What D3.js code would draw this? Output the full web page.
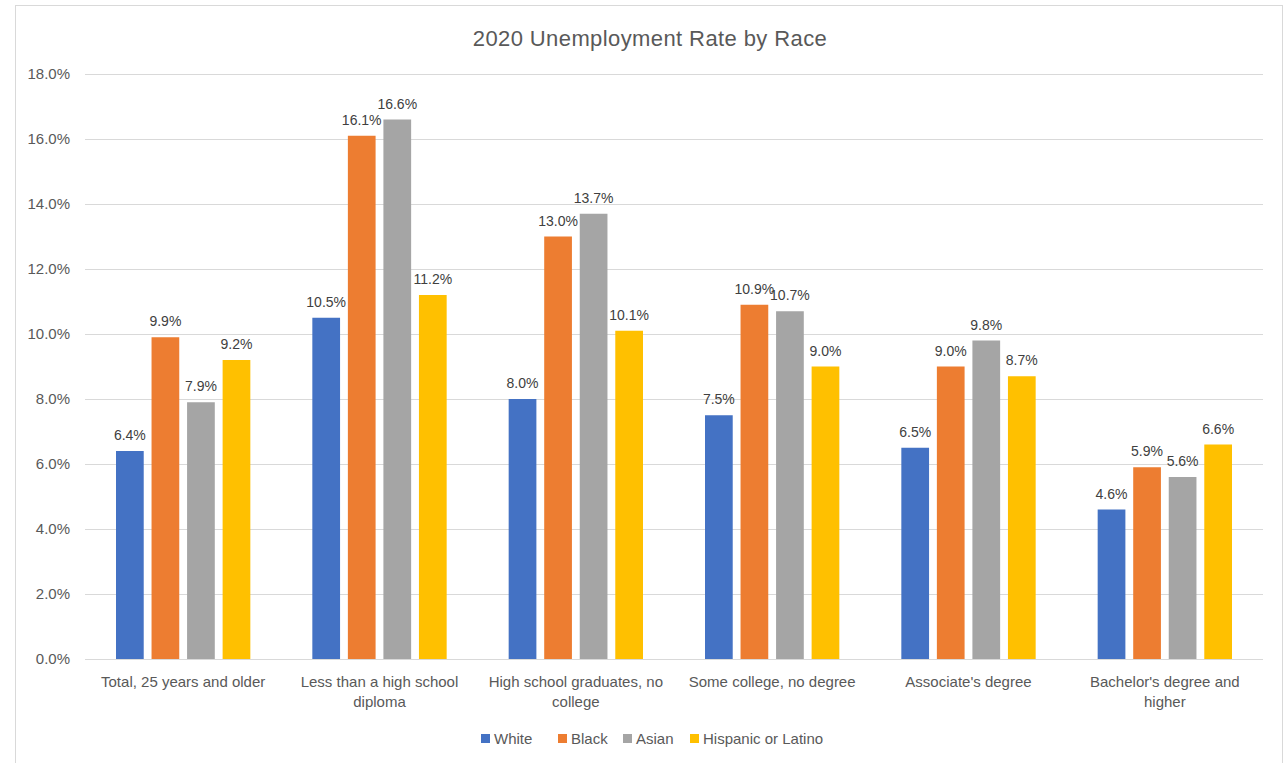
<!DOCTYPE html>
<html>
<head>
<meta charset="utf-8">
<script src="https://cdn.jsdelivr.net/npm/d3@7"></script>
<style>
  body { margin: 0; background: #fff; }
  text { font-family: "Liberation Sans", Arial, sans-serif; }
</style>
</head>
<body>
<div class="chart"></div>
<script>
// Chart data
const categories = [
  "Total, 25 years and older",
  "Less than a high school\ndiploma",
  "High school graduates, no\ncollege",
  "Some college, no degree",
  "Associate's degree",
  "Bachelor's degree and\nhigher"
];
const seriesNames = ["White", "Black", "Asian", "Hispanic or Latino"];
const white = [6.4, 10.5, 8.0, 7.5, 6.5, 4.6];
const black = [9.9, 16.1, 13.0, 10.9, 9.0, 5.9];
const asian = [7.9, 16.6, 13.7, 10.7, 9.8, 5.6];
const hispanic = [9.2, 11.2, 10.1, 9.0, 8.7, 6.6];
const yTicks = [0, 2, 4, 6, 8, 10, 12, 14, 16, 18];

const colors = ["#4472C4", "#ED7D31", "#A5A5A5", "#FFC000"];
const seriesValues = [white, black, asian, hispanic];

const W = 1286, H = 763;
const margin = { top: 74, right: 23, bottom: 104, left: 85 },
  width = W - margin.left - margin.right,
  height = H - margin.top - margin.bottom;

const root = d3.select(".chart")
  .append("svg")
  .attr("width", W)
  .attr("height", H);

// outer chart border
root.append("rect")
  .attr("x", 15.5)
  .attr("y", 5.5)
  .attr("width", 1267)
  .attr("height", 800)
  .attr("fill", "none")
  .attr("stroke", "#D9D9D9")
  .attr("stroke-width", 1);

// title
root.append("text")
  .attr("x", 650)
  .attr("y", 46)
  .attr("text-anchor", "middle")
  .attr("fill", "#595959")
  .style("font-size", "22px")
  .style("letter-spacing", "0.4px")
  .text("2020 Unemployment Rate by Race");

const svg = root.append("g")
  .attr("transform", "translate(" + margin.left + "," + margin.top + ")");

const x0 = d3.scaleBand()
  .domain(categories)
  .range([0, width])
  .paddingInner(0)
  .paddingOuter(0);

const x1 = d3.scaleBand()
  .domain(seriesNames)
  .range([31, x0.bandwidth() - 31])
  .paddingInner(0.22)
  .paddingOuter(0);

const y = d3.scaleLinear()
  .domain([0, 18])
  .range([height, 0]);

// gridlines
svg.append("g")
  .selectAll("line")
  .data(yTicks)
  .enter()
  .append("line")
  .attr("x1", 0)
  .attr("x2", width)
  .attr("y1", function (d) { return Math.round(y(d)) + 0.5; })
  .attr("y2", function (d) { return Math.round(y(d)) + 0.5; })
  .attr("stroke", "#D9D9D9")
  .attr("stroke-width", 1.2);

// y axis labels
const yAxis = svg.append("g")
  .call(d3.axisLeft(y).tickValues(yTicks).tickSize(0).tickPadding(15)
    .tickFormat(function (d) { return d.toFixed(1) + "%"; }));
yAxis.select(".domain").remove();
yAxis.selectAll("text")
  .attr("fill", "#595959")
  .style("font-size", "15px")
  .style("font-family", "Liberation Sans, Arial, sans-serif");

// x axis labels
const xAxis = svg.append("g")
  .attr("transform", "translate(0," + height + ")")
  .call(d3.axisBottom(x0).tickSize(0).tickFormat(""));
xAxis.select(".domain").remove();
xAxis.selectAll(".tick").each(function (d) {
  const lines = d.split("\n");
  const t = d3.select(this).append("text")
    .attr("text-anchor", "middle")
    .attr("fill", "#595959")
    .style("font-size", "15px")
    .style("font-family", "Liberation Sans, Arial, sans-serif");
  lines.forEach(function (line, i) {
    t.append("tspan")
      .attr("x", 0)
      .attr("y", 28 + i * 20)
      .text(line);
  });
});

// bars
const rows = categories.map(function (c, i) {
  return seriesNames.map(function (s, j) {
    return { cat: c, series: s, value: seriesValues[j][i], color: colors[j] };
  });
});

const groups = svg.selectAll(".group")
  .data(rows)
  .enter()
  .append("g")
  .attr("class", "group")
  .attr("transform", function (d) { return "translate(" + x0(d[0].cat) + ",0)"; });

groups.selectAll("rect")
  .data(function (d) { return d; })
  .enter()
  .append("rect")
  .attr("x", function (d) { return x1(d.series); })
  .attr("y", function (d) { return y(d.value); })
  .attr("width", x1.bandwidth())
  .attr("height", function (d) { return height - y(d.value); })
  .attr("fill", function (d) { return d.color; });

groups.selectAll(".label")
  .data(function (d) { return d; })
  .enter()
  .append("text")
  .attr("class", "label")
  .attr("x", function (d) { return x1(d.series) + x1.bandwidth() / 2; })
  .attr("y", function (d) { return y(d.value) - 11; })
  .attr("text-anchor", "middle")
  .attr("fill", "#404040")
  .style("font-size", "14px")
  .text(function (d) { return d.value.toFixed(1) + "%"; });

// legend
const legendX = [481, 558, 623, 690];
const legend = root.append("g")
  .attr("transform", "translate(0,739)");

const items = legend.selectAll(".legend-item")
  .data(seriesNames)
  .enter()
  .append("g")
  .attr("class", "legend-item")
  .attr("transform", function (d, i) { return "translate(" + legendX[i] + ",0)"; });

items.append("rect")
  .attr("x", 0)
  .attr("y", -5)
  .attr("width", 9)
  .attr("height", 9)
  .attr("fill", function (d, i) { return colors[i]; });

items.append("text")
  .attr("x", 13)
  .attr("y", 5)
  .attr("fill", "#595959")
  .style("font-size", "15px")
  .text(function (d) { return d; });
</script>
</body>
</html>
